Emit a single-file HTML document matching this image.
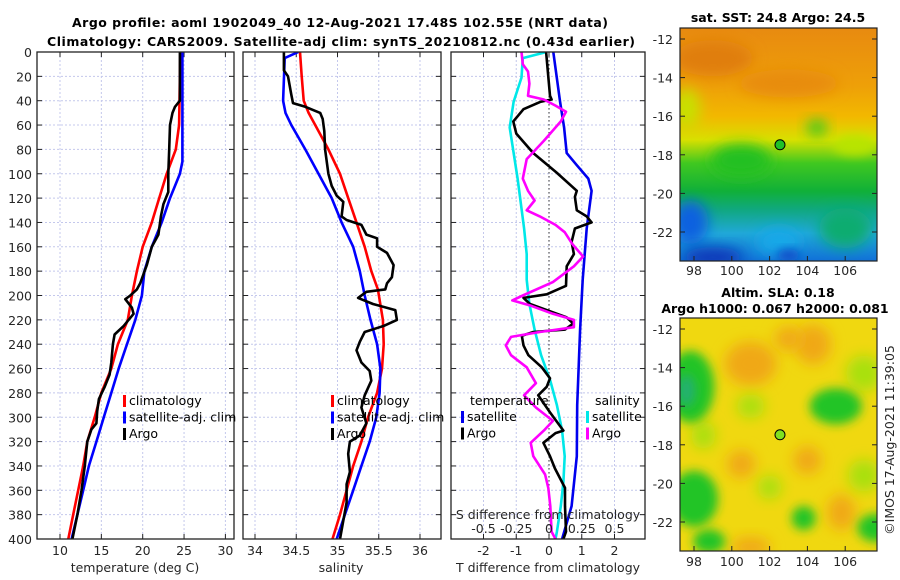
<!DOCTYPE html>
<html><head><meta charset="utf-8"><style>
html,body{margin:0;padding:0;background:#fff;}
svg{display:block;font-family:"DejaVu Sans","Liberation Sans",sans-serif;}
.tk{font-size:12.5px;fill:#262626;}
.ttl{font-size:12.5px;font-weight:bold;fill:#000;}
.lg{font-size:12.5px;fill:#000;}
</style></head><body>
<svg id="fig" width="900" height="580" viewBox="0 0 900 580" xmlns="http://www.w3.org/2000/svg">
<defs>
<clipPath id="c1"><rect x="37" y="52" width="197" height="487"/></clipPath>
<clipPath id="c2"><rect x="243" y="52" width="198" height="487"/></clipPath>
<clipPath id="c3"><rect x="451" y="52" width="194" height="487"/></clipPath>
<clipPath id="cm1"><rect x="680" y="28" width="197" height="233"/></clipPath>
<clipPath id="cm2"><rect x="680" y="318" width="197" height="233"/></clipPath>
<filter id="bl" x="-50%" y="-50%" width="200%" height="200%"><feGaussianBlur stdDeviation="7"/></filter>
<filter id="bl2" x="-50%" y="-50%" width="200%" height="200%"><feGaussianBlur stdDeviation="5"/></filter>
<linearGradient id="sstg" x1="0" y1="0" x2="0" y2="1">
<stop offset="0" stop-color="#e88a10"/><stop offset="0.25" stop-color="#eea008"/>
<stop offset="0.38" stop-color="#f2b800"/><stop offset="0.48" stop-color="#d8e000"/>
<stop offset="0.58" stop-color="#40c820"/><stop offset="0.70" stop-color="#10b038"/>
<stop offset="0.78" stop-color="#10a880"/><stop offset="0.88" stop-color="#20a8d8"/>
<stop offset="1" stop-color="#1070d8"/></linearGradient>
</defs>
<text class="ttl" x="340" y="27" text-anchor="middle" textLength="536">Argo profile: aoml 1902049_40 12-Aug-2021 17.48S 102.55E (NRT data)</text>
<text class="ttl" x="341" y="46" text-anchor="middle" textLength="588">Climatology: CARS2009. Satellite-adj clim: synTS_20210812.nc (0.43d earlier)</text>
<g id="plots"></g>
<g id="maps"></g>
</svg>
<script>
// ---------- data ----------
const depthTicks=[0,20,40,60,80,100,120,140,160,180,200,220,240,260,280,300,320,340,360,380,400];
const tempTicks=[10,15,20,25,30];
const salTicks=[34,34.5,35,35.5,36];
const salTickLabels=["34","34.5","35","35.5","36"];
const tdiffTicks=[-2,-1,0,1,2];
const sdiffTicks=[-0.5,-0.25,0,0.25,0.5];
const sdiffTickLabels=["-0.5","-0.25","0","0.25","0.5"];

const tClimDepth=[0,60,80,100,120,140,160,180,200,220,240,260,280,300,320,340,360,380,400];
const tClim=[24.55,24.4,24.0,22.9,22.0,21.1,20.0,19.3,18.7,18.2,17.0,16.2,15.0,14.2,13.3,12.8,12.2,11.6,11.0];
const tSatDepth=[0,90,100,110,120,140,160,180,200,220,240,260,280,300,320,340,360,380,400];
const tSat=[24.8,24.8,24.5,23.9,23.3,22.3,21.1,20.2,19.9,19.1,18.1,17.1,16.2,15.3,14.4,13.5,12.8,12.1,11.4];
const tArgoDepth=[0,40,45,50,60,80,100,115,125,135,150,155,160,175,190,195,200,203,210,215,225,232,240,255,265,275,285,295,305,310,320,340,360,380,400];
const tArgo=[24.5,24.5,23.9,23.6,23.3,23.2,23.1,23.1,22.5,22.2,21.9,21.5,21.1,20.5,19.7,19.3,18.5,17.9,18.7,18.9,17.7,16.6,16.4,16.2,16.0,15.4,14.7,14.5,14.4,13.8,13.3,13.0,12.6,12.1,11.5];

const sClimDepth=[0,20,40,50,60,80,100,120,140,160,180,195,220,240,260,280,300,320,340,360,380,400];
const sClim=[34.545,34.566,34.59,34.65,34.73,34.89,35.03,35.13,35.23,35.33,35.41,35.49,35.55,35.56,35.54,35.48,35.37,35.29,35.19,35.11,35.03,34.94];
const sSatDepth=[0,5,40,50,60,80,100,120,140,160,180,200,220,240,260,280,300,320,340,360,380,400];
const sSat=[34.525,34.36,34.34,34.37,34.44,34.61,34.77,34.93,35.05,35.19,35.27,35.33,35.40,35.48,35.52,35.51,35.47,35.39,35.29,35.19,35.09,34.99];
const sArgoDepth=[0,15,20,35,42,45,50,55,65,80,100,110,118,123,135,138,142,150,153,160,165,175,185,190,195,197,202,207,212,220,225,230,238,245,255,262,270,282,292,305,315,320,330,345,355,370,385,400];
const sArgo=[34.35,34.35,34.40,34.44,34.46,34.61,34.79,34.82,34.84,34.85,34.89,34.93,34.99,35.07,35.05,35.11,35.29,35.35,35.48,35.48,35.6,35.68,35.66,35.6,35.58,35.35,35.25,35.43,35.70,35.72,35.56,35.33,35.27,35.23,35.29,35.39,35.41,35.33,35.29,35.35,35.27,35.15,35.13,35.15,35.11,35.11,35.07,35.03];

const dtSatDepth=[0,41,62,83,93,104,114,145,187,228,290,332,373,400];
const dtSat=[0.13,0.34,0.46,0.54,0.85,1.2,1.3,1.15,1.03,0.95,0.86,0.85,0.69,0.40];
const dtArgoDepth=[0,36,39,41,47,57,67,83,99,114,119,130,135,140,145,156,166,176,192,199,202,207,218,223,228,230,233,241,249,259,268,275,282,296,311,313,321,332,342,358,373,394,400];
const dtArgo=[-0.09,0.03,0.08,-0.27,-0.78,-1.09,-1.0,-0.48,0.23,0.85,0.79,0.85,1.15,1.3,0.79,0.69,0.76,0.54,0.52,-0.07,-0.78,-0.58,0.54,0.74,0.49,-0.48,-0.83,-0.78,-0.63,-0.22,0.03,-0.07,-0.33,0.03,0.44,0.2,-0.17,0.03,0.18,0.49,0.49,0.52,0.44];
const dsSatDepth=[0,5,21,41,62,104,145,166,187,207,228,249,270,290,311,332,353,373,394,400];
const dsSat=[-0.02,-0.2,-0.21,-0.27,-0.3,-0.24,-0.19,-0.17,-0.17,-0.15,-0.11,-0.06,0.01,0.06,0.10,0.12,0.11,0.09,0.06,0.05];
const dsArgoDepth=[0,10,16,26,36,39,44,49,57,73,88,104,114,122,130,135,142,148,158,168,176,189,200,204,208,215,220,226,230,234,241,249,259,272,282,292,303,311,321,332,347,358,373,394,400];
const dsArgo=[-0.21,-0.2,-0.16,-0.15,-0.16,-0.04,0.05,0.13,0.09,-0.04,-0.17,-0.2,-0.16,-0.11,-0.17,-0.07,0.05,0.12,0.18,0.26,0.19,0.03,-0.2,-0.28,-0.15,0.03,0.19,0.19,-0.07,-0.29,-0.33,-0.29,-0.17,-0.1,-0.19,-0.1,0.03,-0.04,-0.14,-0.12,-0.03,-0.005,0.01,0.02,0.05];

const lonTicks=[98,100,102,104,106];
const latTicks=[-12,-14,-16,-18,-20,-22];
const argoLon=102.55, argoLat=-17.48;

// ---------- axes ----------
const NS="http://www.w3.org/2000/svg";
const Y0=52,Y1=539;
const yd=d=>Y0+d*(Y1-Y0)/400;
const tx=t=>60+(t-10)*8.27;
const sx=s=>255+(s-34)*82.5;
const dtx=v=>549+v*32.75;
const dsx=v=>549+v*131;
const lx=l=>694+(l-98)*18.9;
const ly1=l=>39+(-12-l)*19.3;
const ly2=l=>329+(-12-l)*19.3;

function mk(tag,attrs,parent){const e=document.createElementNS(NS,tag);for(const k in attrs)e.setAttribute(k,attrs[k]);parent.appendChild(e);return e;}
const P=document.getElementById('plots');
const M=document.getElementById('maps');

function panel(x0,x1,xt,xf,labels,clip,name){
  const g=mk('g',{},P);
  
  
  depthTicks.forEach(d=>{
    const l=mk('line',{x1:x0,x2:x1,y1:yd(d),y2:yd(d),stroke:'#c4c8ec','stroke-width':1,'stroke-dasharray':'2,2'},g);
    
    
    mk('line',{x1:x0,x2:x0+5,y1:yd(d),y2:yd(d),stroke:'#222'},g);
    mk('line',{x1:x1-5,x2:x1,y1:yd(d),y2:yd(d),stroke:'#222'},g);
  });
  xt.forEach((v,i)=>{
    const X=xf(v);
    const l=mk('line',{x1:X,x2:X,y1:Y0,y2:Y1,stroke:'#c4c8ec','stroke-width':1,'stroke-dasharray':'2,2'},g);
    
    
    mk('line',{x1:X,x2:X,y1:Y1-5,y2:Y1,stroke:'#222'},g);
    mk('line',{x1:X,x2:X,y1:Y0,y2:Y0+5,stroke:'#222'},g);
    const t=mk('text',{x:X,y:555,'text-anchor':'middle',class:'tk'},g);
    t.textContent=labels[i];
    
    
  });
  return g;
}
function line(g,ds,vs,f,color,clip,name,w){
  const pts=ds.map((d,i)=>f(vs[i]).toFixed(1)+','+yd(d).toFixed(1)).join(' ');
  const p=mk('polyline',{points:pts,fill:'none',stroke:color,'stroke-width':w||2.6,'stroke-linejoin':'round','clip-path':'url(#'+clip+')'},g);
  
  
}
function frame(x0,x1,g){
  const r=mk('rect',{x:x0,y:Y0,width:x1-x0,height:Y1-Y0,fill:'none',stroke:'#222','stroke-width':1.3},g);
  
  
}
function legend(g,x,y,items){
  items.forEach((it,i)=>{
    mk('rect',{x:x,y:y+i*16.5-10,width:3,height:12,fill:it[1]},g);
    const t=mk('text',{x:x+6,y:y+i*16.5,class:'lg'},g);
    t.textContent=it[0];
    
    
  });
}

depthTicks.forEach(d=>{
  const t=mk('text',{x:32,y:yd(d)+5,'text-anchor':'end',class:'tk'},P);
  t.textContent=d;
  
  
});

// panel 1
const g1=panel(37,234,tempTicks,tx,tempTicks.map(String),'c1','temperature-panel');
line(g1,tClimDepth,tClim,tx,'#ff0000','c1','temperature-climatology-line');
line(g1,tSatDepth,tSat,tx,'#0000ff','c1','temperature-satellite-line');
line(g1,tArgoDepth,tArgo,tx,'#000','c1','temperature-argo-line');
frame(37,234,g1);
legend(g1,123,405,[['climatology','#ff0000'],['satellite-adj. clim','#0000ff'],['Argo','#000']]);
let t=mk('text',{x:135,y:572,'text-anchor':'middle',class:'tk'},g1);t.textContent='temperature (deg C)';



// panel 2
const g2=panel(243,441,salTicks,sx,salTickLabels,'c2','salinity-panel');
line(g2,sClimDepth,sClim,sx,'#ff0000','c2','salinity-climatology-line');
line(g2,sSatDepth,sSat,sx,'#0000ff','c2','salinity-satellite-line');
line(g2,sArgoDepth,sArgo,sx,'#000','c2','salinity-argo-line');
frame(243,441,g2);
legend(g2,331,405,[['climatology','#ff0000'],['satellite-adj. clim','#0000ff'],['Argo','#000']]);
t=mk('text',{x:341,y:572,'text-anchor':'middle',class:'tk'},g2);t.textContent='salinity';



// panel 3
const g3=panel(451,645,tdiffTicks,dtx,tdiffTicks.map(String),'c3','difference-panel');
mk('line',{x1:dtx(0),x2:dtx(0),y1:Y0,y2:Y1,stroke:'#333','stroke-width':1,'stroke-dasharray':'1.5,2.5'},g3);
line(g3,dsSatDepth,dsSat,dsx,'#00e8e8','c3','salinity-diff-satellite-line');
line(g3,dtSatDepth,dtSat,dtx,'#0000ee','c3','temperature-diff-satellite-line');
line(g3,dtArgoDepth,dtArgo,dtx,'#000','c3','temperature-diff-argo-line');
line(g3,dsArgoDepth,dsArgo,dsx,'#ff00ff','c3','salinity-diff-argo-line');
frame(451,645,g3);
t=mk('text',{x:470,y:405,class:'lg'},g3);t.textContent='temperature';


t=mk('text',{x:595,y:405,class:'lg'},g3);t.textContent='salinity';


legend(g3,461,421,[['satellite','#0000ee'],['Argo','#000']]);
legend(g3,586,421,[['satellite','#00e8e8'],['Argo','#ff00ff']]);
t=mk('text',{x:548,y:519,'text-anchor':'middle',class:'tk'},g3);t.textContent='S difference from climatology';


sdiffTicks.forEach((v,i)=>{
  const tt=mk('text',{x:dsx(v),y:533,'text-anchor':'middle',class:'tk'},g3);
  tt.textContent=sdiffTickLabels[i];
  
  
});
t=mk('text',{x:548,y:572,'text-anchor':'middle',class:'tk'},g3);t.textContent='T difference from climatology';



// ---------- maps ----------
function blob(g,lon,lat,lyf,rx,ry,color,f){
  mk('ellipse',{cx:lx(lon),cy:lyf(lat),rx:rx,ry:ry,fill:color,filter:'url(#'+(f||'bl')+')'},g);
}
function mapAxes(g,top,lyf,yl){
  latTicks.forEach(l=>{
    const tt=mk('text',{x:673,y:lyf(l)+5,'text-anchor':'end',class:'tk'},g);
    tt.textContent=l;
    
    
    mk('line',{x1:872,x2:877,y1:lyf(l),y2:lyf(l),stroke:'#222'},g);
    mk('line',{x1:680,x2:685,y1:lyf(l),y2:lyf(l),stroke:'#222'},g);
  });
  lonTicks.forEach(l=>{
    const tt=mk('text',{x:lx(l),y:yl,'text-anchor':'middle',class:'tk'},g);
    tt.textContent=l;
    
    
    mk('line',{x1:lx(l),x2:lx(l),y1:top+228,y2:top+233,stroke:'#222'},g);
  });
  mk('rect',{x:680,y:top,width:197,height:233,fill:'none',stroke:'#222','stroke-width':1.2},g);
}
// SST map
const m1=mk('g',{},M);


const m1c=mk('g',{'clip-path':'url(#cm1)'},m1);
mk('rect',{x:680,y:28,width:197,height:233,fill:'url(#sstg)'},m1c);
blob(m1c,99,-13,ly1,40,18,'#e07e10');
blob(m1c,103,-14.3,ly1,50,14,'#e88c0c');
blob(m1c,97.6,-15.6,ly1,14,20,'#c8e000');
blob(m1c,100.5,-18.3,ly1,30,16,'#20c020');
blob(m1c,104.5,-16.6,ly1,10,8,'#30c820');
blob(m1c,106.5,-17.5,ly1,22,10,'#b8e400','bl2');
blob(m1c,97.8,-21.5,ly1,18,22,'#1060e0');
blob(m1c,99,-23.3,ly1,30,10,'#0838b8');
blob(m1c,102.5,-22.5,ly1,22,14,'#18a8e8');
blob(m1c,106,-21.8,ly1,26,20,'#10ac70');
blob(m1c,103,-23.2,ly1,12,6,'#0848c8','bl2');
const c1=mk('circle',{cx:lx(argoLon),cy:ly1(argoLat),r:5,fill:'#20c028',stroke:'#000','stroke-width':1},m1);


mapAxes(m1,28,ly1,275);
t=mk('text',{x:778,y:22,'text-anchor':'middle',class:'ttl'},m1);t.textContent='sat. SST: 24.8 Argo: 24.5';



// SLA map
const m2=mk('g',{},M);


const m2c=mk('g',{'clip-path':'url(#cm2)'},m2);
mk('rect',{x:680,y:318,width:197,height:233,fill:'#f0d810'},m2c);
[[101,-13.8,26,22],[104.3,-12.8,18,20],[105.8,-21.5,14,18],[101,-23.3,20,10],[104,-18.8,14,14],[100.5,-19,14,14],[103,-12.5,14,12]].forEach(b=>blob(m2c,b[0],b[1],ly2,b[2],b[3],'#f0a818'));
[[107,-14.3,18,18],[101,-16,14,12],[102,-20.2,12,12],[107,-19.6,16,16],[98.5,-17.5,12,14]].forEach(b=>blob(m2c,b[0],b[1],ly2,b[2],b[3],'#a8e010'));
[[97.8,-15,24,36],[105.5,-16,26,18],[98,-20.8,24,28],[98.8,-23,16,12],[103.8,-21.8,12,12],[107.6,-22.3,18,14]].forEach(b=>blob(m2c,b[0],b[1],ly2,b[2],b[3],'#20c428','bl2'));
blob(m2c,97.6,-15.2,ly2,9,16,'#20b070','bl2');
const c2=mk('circle',{cx:lx(argoLon),cy:ly2(argoLat),r:5,fill:'#80e020',stroke:'#000','stroke-width':1},m2);


mapAxes(m2,318,ly2,566);
t=mk('text',{x:778,y:297,'text-anchor':'middle',class:'ttl'},m2);t.textContent='Altim. SLA: 0.18';


t=mk('text',{x:775,y:313,'text-anchor':'middle',class:'ttl'},m2);t.textContent='Argo h1000: 0.067 h2000: 0.081';


t=mk('text',{x:894,y:440,'text-anchor':'middle',class:'tk',transform:'rotate(-90 894 440)'},M);t.textContent='©IMOS 17-Aug-2021 11:39:05';


</script>
</body></html>
